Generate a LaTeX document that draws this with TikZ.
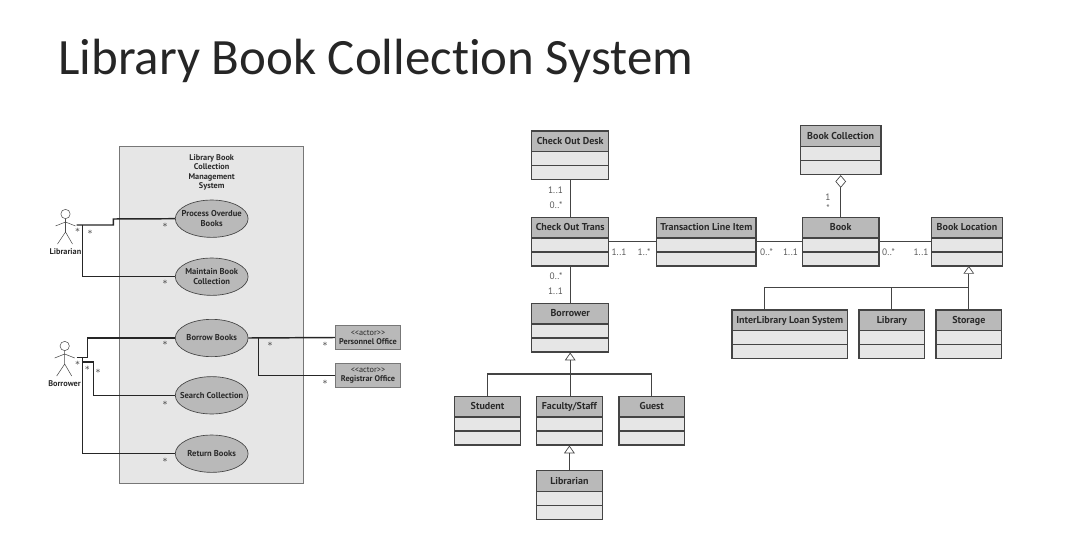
\documentclass[tikz,border=0pt]{standalone}
\usepackage{fontspec}
\setmainfont{PT Sans}
\newfontfamily\titlefont[Ligatures=NoCommon]{Carlito}
\usetikzlibrary{arrows.meta,calc,shapes.multipart,shapes.geometric}
\definecolor{HeadClr}{HTML}{B9B9B9}
\definecolor{BodyClr}{HTML}{E6E6E6}
\definecolor{LineClr}{HTML}{444444}
\definecolor{TextClr}{HTML}{2A2A2A}
\definecolor{SysClr}{HTML}{777777}
\tikzset{
  classbox/.style={rectangle split,rectangle split parts=3,rectangle split part fill={HeadClr,BodyClr,BodyClr},
    draw=LineClr,line width=.9pt,inner sep=0pt,anchor=north,text=TextClr,font=\bfseries\fontsize{7.5}{8}\selectfont},
  assoc/.style={draw=LineClr,line width=.9pt},
  wire/.style={draw=black!85,line width=1.1pt},
  mult/.style={text=black!65,font=\fontsize{7}{8}\selectfont,inner sep=0pt},
  star/.style={text=TextClr,font=\fontsize{7}{8}\selectfont,inner sep=0pt},
  usecase/.style={ellipse,draw=LineClr,fill=HeadClr,line width=.5pt,minimum width=54.6pt,minimum height=28pt,inner ysep=0pt,inner xsep=-12pt,
    align=center,text=TextClr,font=\bfseries\fontsize{6.4}{7.6}\selectfont},
  actorbox/.style={draw=SysClr,fill=HeadClr,line width=.6pt,minimum width=49pt,minimum height=17.6pt,inner sep=0pt,
    align=center,text=TextClr,font=\fontsize{6.2}{6.8}\selectfont},
  actorname/.style={text=TextClr,inner sep=0pt,font=\bfseries\fontsize{6.2}{7}\selectfont},
  figure/.style={draw=black!70,line width=.4pt},
  gentip/.style={{Triangle[open,fill=white,line width=.5pt,length=5.8pt,width=8pt]}-},
  agrtip/.style={{Diamond[open,fill=white,line width=.5pt,length=9.5pt,width=8pt]}-}
}
\newcommand{\classNode}[4]{\node[classbox] (#1) at (#2)
  {\makebox[\dimexpr #3pt*3/4\relax]{\rule[-4.9pt]{0pt}{14.6pt}#4}
  \nodepart{two}\rule{0pt}{9.6pt}
  \nodepart{three}\rule{0pt}{9.6pt}};}
\newcommand{\stickMan}[2]{
  \draw[figure] (#1,#2) circle (3.5pt);
  \draw[figure] (#1,#2+4.7) -- (#1,#2+18) (#1-10,#2+12) -- (#1,#2+8) -- (#1+10,#2+12)
    (#1-8,#2+30) -- (#1,#2+18) -- (#1+7,#2+30);
}
\begin{document}
\begin{tikzpicture}[x=.75pt,y=-.75pt]
\useasboundingbox (0,0) rectangle (1073,556);

\node[anchor=base west,inner sep=0pt,text=black!85,font=\titlefont\fontsize{38.2}{40}\selectfont] (title) at (58,75) {Library Book Collection System};

\draw[draw=SysClr,fill=BodyClr,line width=.7pt] (119.3,146) rectangle (303.7,483.3);
\node[align=center,text=TextClr,inner sep=0pt,font=\bfseries\fontsize{6.2}{7.1}\selectfont] (sysname) at (211.7,172.5) {Library Book\\Collection\\Management\\System};

\node[usecase] (overdue) at (211.7,218.7) {Process Overdue\\Books};
\node[usecase] (maintain) at (211.7,276.7) {Maintain Book\\Collection};
\node[usecase] (borrow) at (211.7,338) {Borrow Books};
\node[usecase] (search) at (211.7,395.3) {Search Collection};
\node[usecase] (return) at (211.7,453.7) {Return Books};

\node[actorbox] (personnel) at (368,337.5) {{<}{<}actor{>}{>}\\\textbf{Personnel Office}};
\node[actorbox] (registrar) at (368,375.3) {{<}{<}actor{>}{>}\\\textbf{Registrar Office}};

\stickMan{65.5}{214}
\stickMan{64.7}{346}
\node[actorname] (librarianname) at (65.5,251.7) {Librarian};
\node[actorname] (borrowername) at (64.5,384) {Borrower};

\coordinate (libhand) at (76.7,225);
\coordinate (bowhand) at (76.7,357.7);

\draw[wire] (libhand) -- (113.3,225) -- (113.3,219) -- (overdue.west);
\draw[wire] (82.7,225) |- (maintain.west);
\draw[wire] (bowhand) -- (87.7,357.7) |- (borrow.west);
\draw[wire] (82.7,357.7) |- (return.west);
\draw[wire] (82.7,362) -- (93.3,362) |- (search.west);
\draw[wire] (borrow.east) -- (personnel.west);
\draw[wire] (258.7,338) |- (registrar.west);

\foreach \px/\py [count=\i] in {77.7/230.3,90/232,165/225.3,165/282.7,165/343.7,77.7/363.7,87.3/368,98/371.7,165/403,165/460.7,270/344,325/344,325/382}
  \node[star] (star\i) at (\px,\py) {$\ast$};

\classNode{desk}{570.2,130.5}{77}{Check Out Desk}
\classNode{trans}{570.2,216.7}{77}{Check Out Trans}
\classNode{borrowercls}{570.2,302.7}{77}{Borrower}
\classNode{student}{487.5,395.7}{65.6}{Student}
\classNode{faculty}{569.4,395.7}{65.4}{Faculty/Staff}
\classNode{guest}{651.8,395.7}{65.6}{Guest}
\classNode{librariancls}{569.4,470}{65.4}{Librarian}
\classNode{lineitem}{706.4,216.7}{99.3}{Transaction Line Item}
\classNode{book}{840.7,216.7}{76.7}{Book}
\classNode{location}{967,216.7}{70.6}{Book Location}
\classNode{collection}{840.7,125.3}{80.7}{Book Collection}
\classNode{interlib}{789.7,309.3}{115.3}{InterLibrary Loan System}
\classNode{library}{891.8,309.3}{65.7}{Library}
\classNode{storage}{968.8,309.3}{65.7}{Storage}

\draw[assoc] (desk.south) -- (trans.north);
\draw[assoc] (trans.south) -- (borrowercls.north);
\draw[assoc] (trans.east) -- (lineitem.west);
\draw[assoc] (lineitem.east) -- (book.west);
\draw[assoc] (book.east) -- (location.west);
\draw[assoc,agrtip] (collection.south) -- (collection.south |- book.north);

\draw[assoc,gentip] (borrowercls.south) -- (borrowercls.south |- faculty.north);
\draw[assoc] (student.north) |- (570,374) -| (guest.north);
\draw[assoc,gentip] (faculty.south) -- (librariancls.north);
\draw[assoc,gentip] (968.8,266) -- (storage.north);
\draw[assoc] ($(interlib.north west)!.283!(interlib.north east)$) |- (968.8,287.7);
\draw[assoc] (library.north) -- (library.north |- 968.8,287.7);

\node[mult] (m1) at (555.5,190.7) {1..1};
\node[mult] (m2) at (556,205) {0..*};
\node[mult] (m3) at (556,276.5) {0..*};
\node[mult] (m4) at (555.5,291.5) {1..1};
\node[mult] (m5) at (619,252.5) {1..1};
\node[mult] (m6) at (644,252.5) {1..*};
\node[mult] (m7) at (766.5,252.5) {0..*};
\node[mult] (m8) at (790.5,252.5) {1..1};
\node[mult] (m9) at (888.5,252.5) {0..*};
\node[mult] (m10) at (921,252.5) {1..1};
\node[mult] (m11) at (828,197.5) {1};
\node[mult] (m12) at (828,208.5) {*};

\end{tikzpicture}
\end{document}
